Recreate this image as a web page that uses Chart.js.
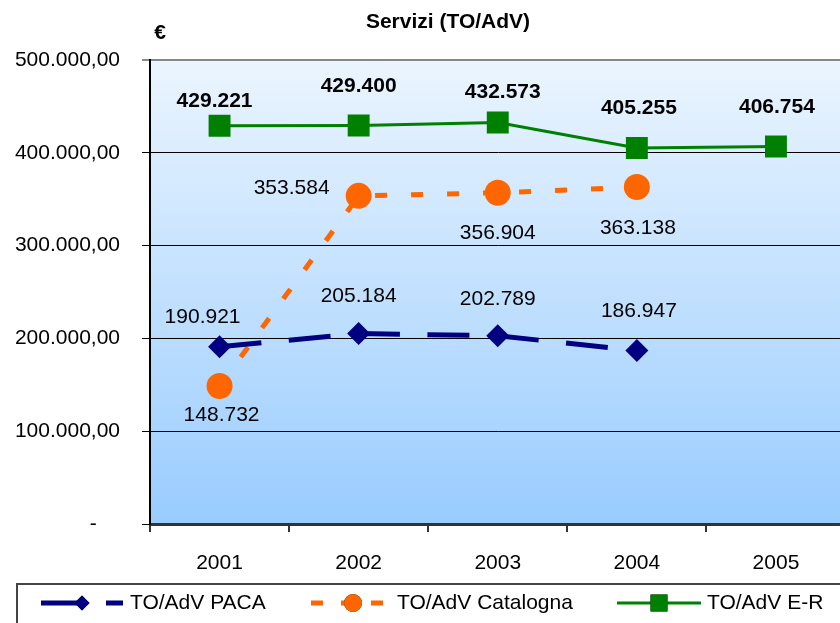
<!DOCTYPE html>
<html>
<head>
<meta charset="utf-8">
<script src="https://cdn.jsdelivr.net/npm/chart.js@4"></script>
<style>
  html, body { margin: 0; padding: 0; background: #fff; overflow: hidden; }
  canvas { display: block; }
</style>
</head>
<body>
<canvas id="chart" width="861" height="623"></canvas>
<script>
const YEARS = ["2001", "2002", "2003", "2004", "2005"];
const PACA = [190921, 205184, 202789, 186947, null];
const CATALOGNA = [148732, 353584, 356904, 363138, null];
const EMILIA = [429221, 429400, 432573, 405255, 406754];
const Y_MIN = 0;
const Y_MAX = 500000;
const Y_STEP = 100000;

const FONT = "'Liberation Sans', Arial, sans-serif";

// offsets of the value labels from their point (text centre)
const LABEL_OFFSETS = [
  [[-17, -30], [0, -37], [0, -37], [2, -39]],
  [[2, 29], [-67, -8], [0, 40], [1, 41]],
  [[-5, -24], [0, -39], [5, -30], [2, -40], [1, -39]]
];

function thousands(n) {
  return String(Math.round(n)).replace(/\B(?=(\d{3})+(?!\d))/g, ".");
}

/**
 * Sfondo sfumato, titolo, etichette dei valori e legenda
 */
const decorations = {
  id: "decorations",
  beforeDraw(chart) {
    const { ctx, chartArea: a } = chart;
    ctx.save();
    ctx.fillStyle = "#fff";
    ctx.fillRect(0, 0, chart.width, chart.height);
    const g = ctx.createLinearGradient(0, a.top, 0, a.bottom);
    g.addColorStop(0, "#ebf5fe");
    g.addColorStop(1, "#99ccff");
    ctx.fillStyle = g;
    ctx.fillRect(a.left, a.top, a.right - a.left, a.bottom - a.top);
    ctx.restore();
  },
  afterDraw(chart) {
    const { ctx } = chart;
    ctx.save();
    ctx.fillStyle = "#000";
    ctx.textAlign = "center";
    ctx.textBaseline = "middle";

    ctx.font = "bold 21px " + FONT;
    ctx.fillText("Servizi (TO/AdV)", 448, 22);
    ctx.fillText("€", 160, 33);

    chart.data.datasets.forEach((ds, di) => {
      const meta = chart.getDatasetMeta(di);
      ctx.font = (di === 2 ? "bold " : "") + "21px " + FONT;
      ds.data.forEach((v, i) => {
        if (v == null) return;
        const p = meta.data[i];
        const off = LABEL_OFFSETS[di][i] || [0, -36];
        ctx.fillText(thousands(v), p.x + off[0], p.y + off[1]);
      });
    });

    // legenda
    ctx.strokeStyle = "#444";
    ctx.lineWidth = 2;
    ctx.strokeRect(17, 584, 860, 60);

    const items = [
      { ds: 0, x0: 41, x1: 123, text: 130, dash: [40, 25], r: 7.5 },
      { ds: 1, x0: 311, x1: 395, text: 397, dash: [12, 18], r: 9 },
      { ds: 2, x0: 617, x1: 701, text: 707, dash: [], r: 12 }
    ];
    const ly = 603;
    items.forEach(it => {
      const ds = chart.data.datasets[it.ds];
      ctx.beginPath();
      ctx.setLineDash(it.dash);
      ctx.strokeStyle = ds.borderColor;
      ctx.lineWidth = ds.borderWidth;
      ctx.moveTo(it.x0, ly);
      ctx.lineTo(it.x1, ly);
      ctx.stroke();
      ctx.setLineDash([]);
      Chart.helpers.drawPoint(ctx, {
        pointStyle: ds.pointStyle,
        radius: it.r,
        borderWidth: 0,
        rotation: 0
      }, (it.x0 + it.x1) / 2, ly);
      ctx.fillStyle = ds.pointBackgroundColor;
      ctx.fill();
      ctx.fillStyle = "#000";
      ctx.font = "21px " + FONT;
      ctx.textAlign = "left";
      ctx.fillText(ds.label, it.text, ly);
    });
    ctx.restore();
  }
};

const ctx = document.getElementById("chart").getContext("2d");

new Chart(ctx, {
  type: "line",
  data: {
    labels: YEARS,
    datasets: [
      {
        label: "TO/AdV PACA",
        data: PACA,
        borderColor: "#000080",
        backgroundColor: "#000080",
        pointBackgroundColor: "#000080",
        pointBorderWidth: 0,
        borderWidth: 5,
        borderDash: [42, 27.5],
        pointStyle: "rectRot",
        pointRadius: 11.5,
        tension: 0,
        spanGaps: false
      },
      {
        label: "TO/AdV Catalogna",
        data: CATALOGNA,
        borderColor: "#ff6600",
        backgroundColor: "#ff6600",
        pointBackgroundColor: "#ff6600",
        pointBorderWidth: 0,
        borderWidth: 5,
        borderDash: [12, 24],
        pointStyle: "circle",
        pointRadius: 13,
        tension: 0
      },
      {
        label: "TO/AdV E-R",
        data: EMILIA,
        borderColor: "#008000",
        backgroundColor: "#008000",
        pointBackgroundColor: "#008000",
        pointBorderWidth: 0,
        borderWidth: 3,
        pointStyle: "rect",
        pointRadius: 15.5,
        tension: 0
      }
    ]
  },
  options: {
    responsive: false,
    animation: false,
    layout: { padding: { top: 60, bottom: 39, left: 0, right: 0 } },
    plugins: {
      legend: { display: false },
      title: { display: false },
      tooltip: { enabled: false }
    },
    scales: {
      x: {
        offset: true,
        grid: {
          offset: true,
          drawOnChartArea: false,
          drawTicks: true,
          tickLength: 8,
          color: "#333",
          lineWidth: 2
        },
        border: { color: "#333", width: 3 },
        ticks: {
          color: "#000",
          font: { family: FONT, size: 21 },
          padding: 19,
          maxRotation: 0
        },
        afterFit: axis => {
          axis.height = 60;
          axis.paddingLeft = 0;
          axis.paddingRight = 0;
        }
      },
      y: {
        min: Y_MIN,
        max: Y_MAX,
        grid: {
          tickLength: 8,
          color: c => c.tick && c.tick.value === Y_MAX ? "#888" : "#000",
          lineWidth: c => c.tick && c.tick.value === Y_MAX ? 2 : 1
        },
        border: { color: "#000", width: 2 },
        ticks: {
          stepSize: Y_STEP,
          color: "#000",
          font: { family: FONT, size: 21 },
          padding: 22,
          callback: v => v === 0 ? "-    " : thousands(v) + ",00"
        },
        afterFit: axis => { axis.width = 150; }
      }
    }
  },
  plugins: [decorations]
});
</script>
</body>
</html>
